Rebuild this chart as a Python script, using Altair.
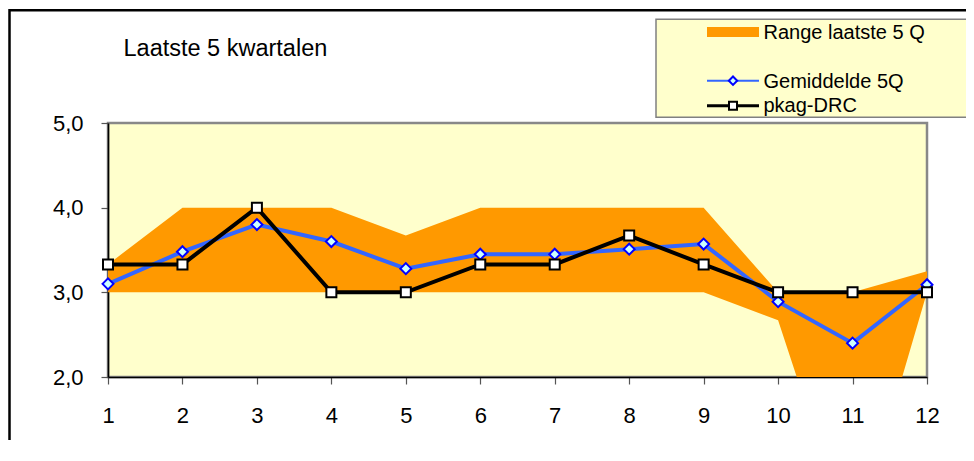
import altair as alt
import pandas as pd

# ---- data ----
quarters = [1, 2, 3, 4, 5, 6, 7, 8, 9, 10, 11, 12]
range_low = [3.0, 3.0, 3.0, 3.0, 3.0, 3.0, 3.0, 3.0, 3.0, 2.67, 0.0, 3.0]
range_high = [3.33, 4.0, 4.0, 4.0, 3.67, 4.0, 4.0, 4.0, 4.0, 3.0, 3.0, 3.25]
gemiddelde = [3.1, 3.48, 3.8, 3.6, 3.28, 3.45, 3.45, 3.51, 3.57, 2.89, 2.4, 3.09]
pkag_drc = [3.33, 3.33, 4.0, 3.0, 3.0, 3.33, 3.33, 3.67, 3.33, 3.0, 3.0, 3.0]
y_ticks = [2, 3, 4, 5]
title_text = "Laatste 5 kwartalen"
legend_labels = ["Range laatste 5 Q", "Gemiddelde 5Q", "pkag-DRC"]

df = pd.DataFrame({
    "q": quarters,
    "low": range_low,
    "high": range_high,
    "avg": gemiddelde,
    "drc": pkag_drc,
})
one = pd.DataFrame({"a": [0]})

FONT = "Liberation Sans"
ORANGE = "#FF9900"
BLUE = "#3366FF"
YELLOW = "#FFFFCC"

xscale = alt.Scale(domain=[1, 12], nice=False, zero=False)
yscale = alt.Scale(domain=[2, 5], nice=False, zero=False)

xaxis = alt.Axis(values=quarters, title=None, grid=False, labelFontSize=22,
                 labelFont=FONT, labelColor="black", labelBaseline="alphabetic",
                 labelPadding=38, tickSize=7, tickColor="#555", tickWidth=1.2,
                 domainColor="black", domainWidth=1.6, labelFlush=False)
yaxis = alt.Axis(values=y_ticks, title=None, grid=False, labelFontSize=22,
                 labelFont=FONT, labelColor="black", labelPadding=18,
                 tickSize=7, tickColor="#555", tickWidth=1.2,
                 domainColor="black", domainWidth=1.6,
                 labelExpr="replace(format(datum.value, '.1f'), '.', ',')")

X = alt.X("q:Q", scale=xscale, axis=xaxis)

base = alt.Chart(df)

area = base.mark_area(color=ORANGE, clip=True, opacity=1).encode(
    x=X,
    y=alt.Y("low:Q", scale=yscale, axis=yaxis),
    y2="high:Q",
)
avg_line = base.mark_line(color=BLUE, strokeWidth=4, clip=True).encode(
    x=X, y=alt.Y("avg:Q", scale=yscale, axis=yaxis),
)
avg_pts = base.mark_point(shape="diamond", filled=True, fill="#CCFFFF", stroke="#0000FF",
                          strokeWidth=2, size=120, opacity=1).encode(
    x=X, y=alt.Y("avg:Q", scale=yscale, axis=yaxis),
)
drc_line = base.mark_line(color="black", strokeWidth=4, clip=True).encode(
    x=X, y=alt.Y("drc:Q", scale=yscale, axis=yaxis),
)
drc_pts = base.mark_point(shape="square", filled=True, fill="white", stroke="black",
                          strokeWidth=2, size=100, opacity=1).encode(
    x=X, y=alt.Y("drc:Q", scale=yscale, axis=yaxis),
)

deco = alt.Chart(one)

outer_border = deco.mark_rect(fillOpacity=0, stroke="black", strokeWidth=2.5).encode(
    x=alt.value(-98.5), x2=alt.value(900), y=alt.value(-112.7), y2=alt.value(400)
)
legend_box = deco.mark_rect(fill=YELLOW, stroke="#808080", strokeWidth=1.5).encode(
    x=alt.value(548), x2=alt.value(900), y=alt.value(-103.7), y2=alt.value(-5.7)
)
legend_swatch = deco.mark_rect(fill=ORANGE).encode(
    x=alt.value(599), x2=alt.value(651), y=alt.value(-96), y2=alt.value(-86)
)
leg_blue_rule = deco.mark_rule(color=BLUE, strokeWidth=2).encode(
    x=alt.value(599), x2=alt.value(651), y=alt.value(-42.3)
)
leg_blue_pt = deco.mark_point(shape="diamond", filled=True, fill="#CCFFFF", stroke="#0000FF",
                              strokeWidth=2, size=70, opacity=1).encode(
    x=alt.value(625), y=alt.value(-42.3)
)
leg_black_rule = deco.mark_rule(color="black", strokeWidth=3).encode(
    x=alt.value(599), x2=alt.value(651), y=alt.value(-17.3)
)
leg_black_pt = deco.mark_point(shape="square", filled=True, fill="white", stroke="black",
                               strokeWidth=2, size=64, opacity=1).encode(
    x=alt.value(625), y=alt.value(-17.3)
)

def label(text, x, y, size):
    return deco.mark_text(align="left", baseline="alphabetic", font=FONT,
                          fontSize=size, color="black").encode(
        x=alt.value(x), y=alt.value(y), text=alt.value(text)
    )

title = label(title_text, 15.5, -67, 23.5)
leg_t1 = label(legend_labels[0], 655.5, -83.7, 20)
leg_t2 = label(legend_labels[1], 655.5, -34.7, 20)
leg_t3 = label(legend_labels[2], 655.5, -11.3, 20)

chart = alt.layer(
    area, avg_line, avg_pts, drc_line, drc_pts,
    outer_border, legend_box,
    legend_swatch, leg_blue_rule, leg_blue_pt, leg_black_rule, leg_black_pt,
    title, leg_t1, leg_t2, leg_t3,
).properties(
    width=819,
    height=254,
    autosize=alt.AutoSizeParams(type="none"),
    padding={"left": 100, "top": 115, "right": 39, "bottom": 63},
    background="white",
).configure_view(
    fill=YELLOW, stroke="#888888", strokeWidth=2.5
)

chart.save("out.html", embed_options={"renderer": "svg", "actions": False})
